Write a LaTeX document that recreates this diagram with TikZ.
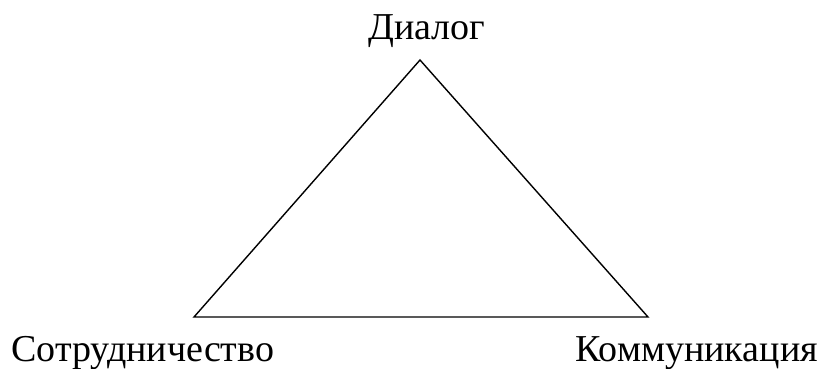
\documentclass[tikz,border=0pt]{standalone}
\usepackage{fontspec}
\setmainfont{Liberation Serif}
\begin{document}
\begin{tikzpicture}[x=1pt,y=-1pt,
  lbl/.style={inner sep=0pt,font=\fontsize{38}{40}\selectfont},
  edge/.style={draw=black,line width=1.4pt,line join=miter}]
\useasboundingbox (0,0) rectangle (823,369);
\coordinate (top) at (420,60);
\coordinate (bl) at (194,317);
\coordinate (br) at (648,317);
\draw[edge] (top) -- (br) -- (bl) -- cycle;
\node[lbl,anchor=base] (d) at (427,40) {Диалог};
\node[lbl,anchor=base west] (s) at (11,361) {Сотрудничество};
\node[lbl,anchor=base east] (k) at (818,361) {Коммуникация};
\end{tikzpicture}
\end{document}
